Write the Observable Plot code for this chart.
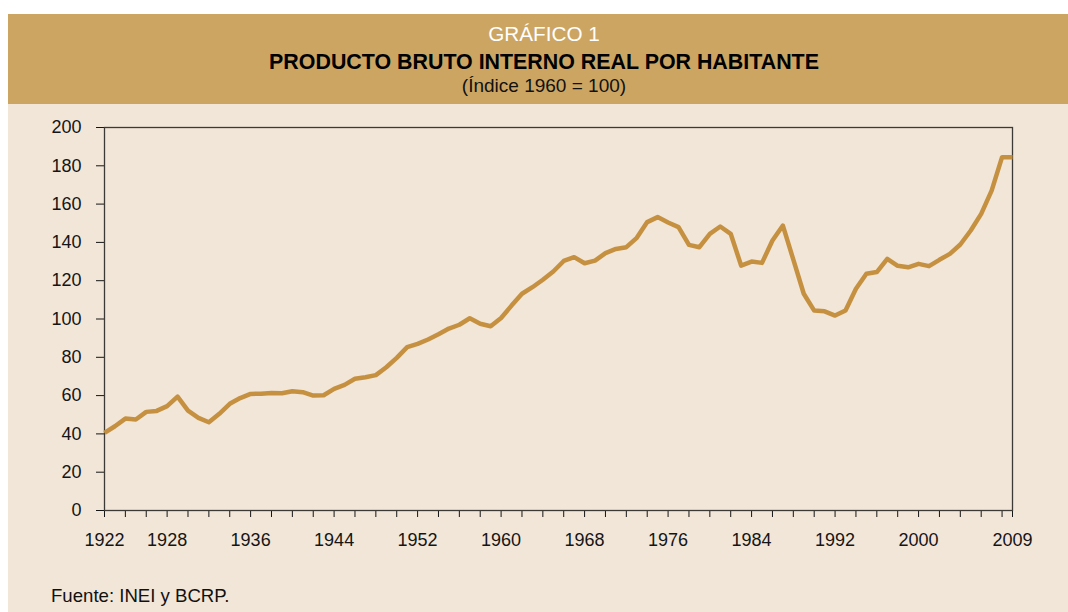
<!DOCTYPE html>
<html>
<head>
<meta charset="utf-8">
<script src="https://cdn.jsdelivr.net/npm/d3@7"></script>
<script src="https://cdn.jsdelivr.net/npm/@observablehq/plot@0.6"></script>
<style>
html, body { margin: 0; padding: 0; background: #ffffff; width: 1068px; height: 612px; overflow: hidden; font-family: "Liberation Sans", Arial, sans-serif; }
#panel { position: absolute; left: 8px; top: 14px; width: 1060px; height: 598px; background: #F2E6D8; }
#header { position: absolute; left: 0; top: 0; width: 1060px; height: 90px; background: #CCA563; }
.t { position: absolute; left: 0; width: 1072px; text-align: center; white-space: nowrap; line-height: 1; }
#t1 { top: 10.2px; font-size: 20.7px; color: #ffffff; }
#t2 { top: 37.9px; font-size: 21.4px; font-weight: bold; color: #000000; }
#t3 { top: 61.9px; font-size: 19px; color: #111111; }
#chart { position: absolute; left: -8px; top: 90px; }
#foot { position: absolute; left: 43px; top: 573px; font-size: 18.6px; line-height: 1; color: #111111; white-space: nowrap; }
</style>
</head>
<body>
<div id="panel">
  <div id="header">
    <div class="t" id="t1">GRÁFICO 1</div>
    <div class="t" id="t2">PRODUCTO BRUTO INTERNO REAL POR HABITANTE</div>
    <div class="t" id="t3">(Índice 1960 = 100)</div>
  </div>
  <div id="chart"></div>
  <div id="foot">Fuente: INEI y BCRP.</div>
</div>
<script>
// Years (categories)
const years = [
  1922, 1923, 1924, 1925, 1926, 1927, 1928, 1929, 1930, 1931,
  1932, 1933, 1934, 1935, 1936, 1937, 1938, 1939, 1940, 1941,
  1942, 1943, 1944, 1945, 1946, 1947, 1948, 1949, 1950, 1951,
  1952, 1953, 1954, 1955, 1956, 1957, 1958, 1959, 1960, 1961,
  1962, 1963, 1964, 1965, 1966, 1967, 1968, 1969, 1970, 1971,
  1972, 1973, 1974, 1975, 1976, 1977, 1978, 1979, 1980, 1981,
  1982, 1983, 1984, 1985, 1986, 1987, 1988, 1989, 1990, 1991,
  1992, 1993, 1994, 1995, 1996, 1997, 1998, 1999, 2000, 2001,
  2002, 2003, 2004, 2005, 2006, 2007, 2008, 2009
];
// PBI real por habitante (Índice 1960 = 100)
const indexValues = [
  40.5, 44.0, 48.0, 47.5, 51.5, 52.0, 54.5, 59.5, 52.2, 48.4,
  46.1, 50.5, 55.7, 58.7, 60.9, 61.0, 61.4, 61.2, 62.3, 61.8,
  60.0, 60.2, 63.5, 65.6, 68.8, 69.6, 70.7, 74.8, 79.7, 85.3,
  87.0, 89.3, 92.0, 95.0, 97.0, 100.4, 97.5, 96.2, 100.5, 107.0,
  113.2, 116.6, 120.5, 124.8, 130.3, 132.3, 129.1, 130.5, 134.4, 136.6,
  137.5, 142.4, 150.6, 153.2, 150.4, 148.0, 138.7, 137.5, 144.5, 148.3,
  144.5, 127.9, 130.0, 129.3, 141.0, 148.8, 131.0, 113.2, 104.4, 104.0,
  101.8, 104.4, 115.8, 123.6, 124.5, 131.4, 127.8, 127.0, 128.8, 127.6,
  130.9, 134.0, 138.9, 146.2, 154.9, 167.0, 184.5, 184.5
];
// Axis ticks
const yTicks = [0, 20, 40, 60, 80, 100, 120, 140, 160, 180, 200];
const xTickYears = [
  1922, 1924, 1926, 1928, 1930, 1932, 1934, 1936, 1938, 1940,
  1942, 1944, 1946, 1948, 1950, 1952, 1954, 1956, 1958, 1960,
  1962, 1964, 1966, 1968, 1970, 1972, 1974, 1976, 1978, 1980,
  1982, 1984, 1986, 1988, 1990, 1992, 1994, 1996, 1998, 2000,
  2002, 2004, 2006, 2008, 2009
];
const xTickLabels = [1922, 1928, 1936, 1944, 1952, 1960, 1968, 1976, 1984, 1992, 2000, 2009];

const data = years.map((year, i) => ({year, value: indexValues[i]}));

const chart = Plot.plot({
  width: 1068,
  height: 460,
  marginLeft: 104,
  marginRight: 56,
  marginTop: 23,
  marginBottom: 54,
  style: {background: "transparent", fontFamily: '"Liberation Sans", Arial, sans-serif', fontSize: "18px", color: "#151515"},
  x: {domain: [1922, 2009]},
  y: {domain: [0, 200]},
  marks: [
    Plot.axisY({ticks: yTicks, tickSize: 8, tickPadding: 15, label: null, fontSize: 18}),
    Plot.axisX({ticks: xTickYears, tickSize: 7, tickPadding: 16, label: null, fontSize: 18,
      tickFormat: d => xTickLabels.includes(d) ? String(d) : ""}),
    Plot.frame({stroke: "#3d3a36", strokeWidth: 1.3}),
    Plot.line(data, {x: "year", y: "value", stroke: "#C59141", strokeWidth: 4.5, strokeLinejoin: "round", strokeLinecap: "butt"})
  ]
});
document.getElementById("chart").appendChild(chart);
</script>
</body>
</html>
